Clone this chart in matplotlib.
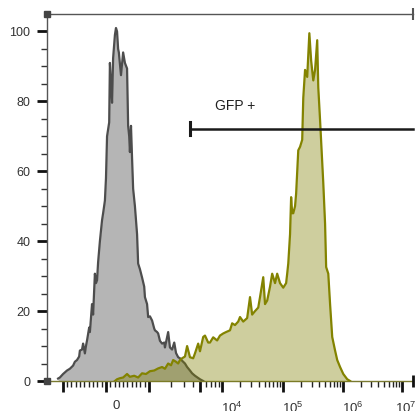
import numpy as np
import matplotlib
matplotlib.use("Agg")
import matplotlib.pyplot as plt
from matplotlib import transforms

plt.rcParams['font.family'] = ['Liberation Sans', 'DejaVu Sans']
plt.rcParams['mathtext.fontset'] = 'custom'
plt.rcParams['mathtext.rm'] = 'Liberation Sans'
plt.rcParams['mathtext.it'] = 'Liberation Sans:italic'
plt.rcParams['mathtext.default'] = 'regular'

# ---- data (x in display channels 0..1024, y in % of max) ----
gray_ch = [31,36,45,56,64,73,78,84,90,92,98,101,106,109,112,118,120,126,129,134,
           137,140,143,148,154,157,162,165,168,174,176,179,182,185,190,193,196,199,201,207,
           213,218,224,227,230,232,235,238,241,246,252,255,260,266,272,274,280,283,288,294,
           300,302,308,311,316,322,328,330,339,344,350,356,361,367,372,378,386,392,400,406,
           414,428,437]
gray_pct = [0.7,1,2,3,3.5,4.4,5.5,6,7,8.7,9,10.7,7.9,10,11.6,15.3,14,22,19,30.7,
            28,28.8,34,40,46,48,51.6,58,70,74,91,85,79.6,92.4,99,101,100,95,94,87.5,
            94,91,89.4,73,70,65.5,73,63.7,55,50,42,33.6,32,29.6,27,24,22,18.3,18.5,17.3,
            15,14.5,14,13.6,11.5,10.7,11,9.6,14,9.6,9,11,8,6.8,6.5,5.8,5,4,3,2.2,
            1.5,0.5,0]

olive_ch = [190,196,204,213,224,232,244,255,266,277,288,300,311,322,330,339,347,353,361,367,
            372,378,386,392,400,409,414,423,428,437,442,451,456,465,476,484,493,501,512,518,
            526,535,540,549,560,568,574,582,591,596,605,610,616,624,630,638,644,652,661,669,
            672,675,680,683,686,689,694,697,703,708,714,717,722,728,734,739,745,750,756,759,
            764,773,778,781,787,792,798,806,812,820,829,840,848]
olive_pct = [0,0.5,0.8,1,2,1.2,1.5,1,2.2,2,2.8,3,3.6,4,3.5,5,4.5,6,5.5,5,
             6,6.5,7,10,6.8,6.5,7.9,10.7,8.5,12.6,13,11,11,12.5,11.6,13,13.6,14,14.5,16.5,
             16,17,18.3,17,18,24,19,20,21,24,29.7,22,23,27,30.7,28,30.7,28,26.7,28,
             30.7,33.6,42,52.6,48,48,50,53.6,66,67,69,81,89,87,99.5,91.7,86,89,97.5,84,
             74.6,56.6,45,32.6,30.7,22,12.6,8.7,6,4,2,0.5,0]

# biexponential axis anchors: value -> display channel
anchor_t = [-1, 0, 1, 2, 3, 4, 5]
anchor_ch = [44, 165, 285, 490, 660, 828, 993]

labeled_vals = [0, 1e4, 1e5, 1e6, 1e7]
labeled_txt = ['0', r'$10^{4}$', r'$10^{5}$', r'$10^{6}$', r'$10^{7}$']
unlabeled_major_vals = [-1e3, 1e3, 5e3]

gate_name = 'GFP +'
gate_start_ch = 400
gate_end_ch = 1024
gate_level = 72.2

y_major = [0, 20, 40, 60, 80, 100]


def to_t(v):
    v = np.asarray(v, dtype=float)
    a = np.abs(v)
    return np.where(a <= 1000, v / 1000.0,
                    np.sign(v) * (1 + np.log10(np.maximum(a, 1e-9) / 1000.0)))


def chan(v):
    return np.interp(to_t(v), anchor_t, anchor_ch)


fig = plt.figure(figsize=(4.15, 4.11), dpi=100)
ax = fig.add_axes([47/415, 30/411, 366/415, 367/411])
ax.set_xlim(0, 1024)
ax.set_ylim(0, 105)

gray_fill = '#b5b5b5'
gray_line = '#4d4d4d'
olive_line = '#838300'

ax.fill_between(gray_ch, gray_pct, 0, color=gray_fill, lw=0, zorder=2)
ax.plot(gray_ch, gray_pct, color=gray_line, lw=1.6, zorder=3)
ax.fill_between(olive_ch, olive_pct, 0, color='#808000', alpha=0.38, lw=0, zorder=4)
ax.plot(olive_ch, olive_pct, color=olive_line, lw=1.6, zorder=5)

# gate
ax.plot([gate_start_ch, gate_end_ch], [gate_level, gate_level], color='#1a1a1a', lw=1.8,
        zorder=6, clip_on=False)
ax.plot([gate_start_ch, gate_start_ch], [gate_level - 1.8, gate_level + 1.8], color='#1a1a1a',
        lw=2.2, zorder=6, clip_on=False)
ax.text(gate_start_ch + 70, gate_level + 4.5, gate_name, fontsize=10, color='#222222',
        ha='left', va='bottom', zorder=7)

# spines
ax.spines['right'].set_visible(False)
for s in ['left', 'bottom', 'top']:
    ax.spines[s].set_color('#555555')
    ax.spines[s].set_linewidth(1.0)
ax.spines['bottom'].set_color('#7a7a30')

# y ticks
ax.set_yticks(y_major)
ax.set_yticklabels([str(v) for v in y_major])
ax.set_yticks(np.arange(0, 101, 5), minor=True)
ax.tick_params(axis='y', which='major', length=7, width=2, color='#111111',
               labelsize=9, labelcolor='#333333', pad=5)
ax.tick_params(axis='y', which='minor', length=4, width=1, color='#333333')

# x ticks
maj_vals = sorted(labeled_vals + unlabeled_major_vals)
ax.set_xticks(chan(maj_vals))
ax.set_xticklabels([labeled_txt[labeled_vals.index(v)] if v in labeled_vals else ''
                    for v in maj_vals])
minor_vals = []
minor_vals += [-m * 100 for m in range(1, 10)] + [m * 100 for m in range(1, 10)]
for dec in [1e3, 1e4, 1e5, 1e6]:
    minor_vals += [m * dec for m in range(2, 10)]
ax.set_xticks(chan(minor_vals), minor=True)
ax.tick_params(axis='x', which='major', length=8, width=2, color='#111111',
               labelsize=9.5, labelcolor='#333333', pad=6)
ax.tick_params(axis='x', which='minor', length=4, width=1, color='#222222')

labels = ax.get_xticklabels()
for v, lbl in zip(maj_vals, labels):
    dx = 4 if v == 1e7 else 10
    lbl.set_transform(lbl.get_transform() +
                      transforms.ScaledTranslation(dx/100, 0, fig.dpi_scale_trans))

# corner decorations
ax.plot([0], [105], marker='s', ms=5, color='#444444', clip_on=False, zorder=8)
ax.plot([0], [0], marker='s', ms=5, color='#444444', clip_on=False, zorder=8)
ax.plot([1024], [105], marker='|', ms=8, mew=1.5, color='#555555', clip_on=False, zorder=8)
ax.plot([1024], [0], marker='|', ms=8, mew=2, color='#111111', clip_on=False, zorder=8)

fig.savefig('out.png', dpi=100)
